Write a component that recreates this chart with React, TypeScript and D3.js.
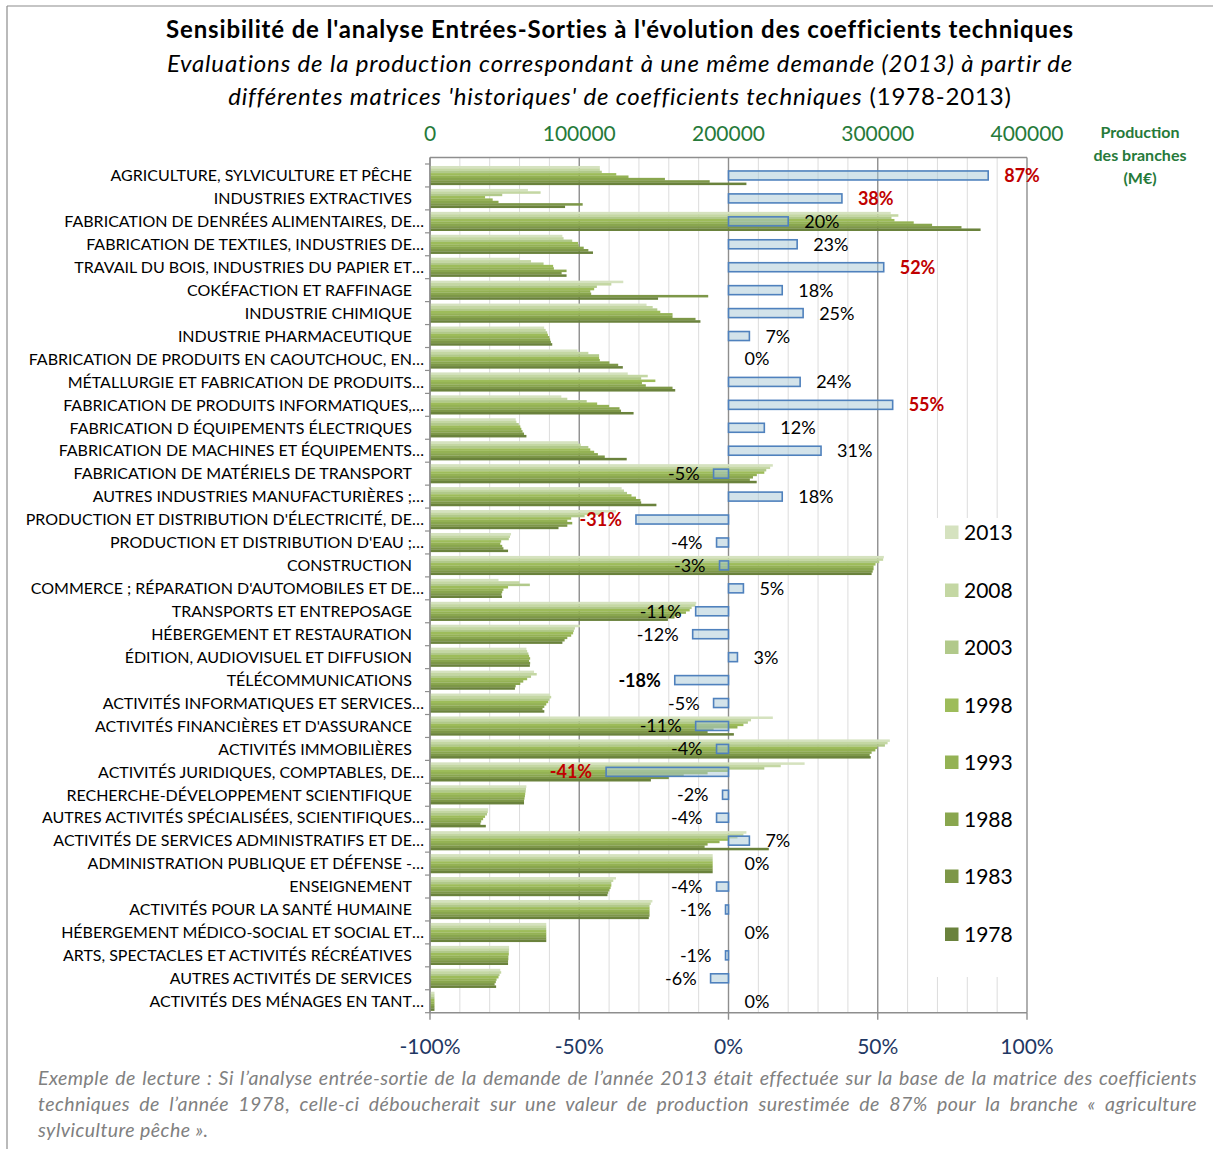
import React, { useLayoutEffect, useRef } from "react";
import * as d3 from "d3";

const categories = [
  "AGRICULTURE, SYLVICULTURE ET PÊCHE",
  "INDUSTRIES EXTRACTIVES",
  "FABRICATION DE DENRÉES ALIMENTAIRES, DE…",
  "FABRICATION DE TEXTILES, INDUSTRIES DE…",
  "TRAVAIL DU BOIS, INDUSTRIES DU PAPIER ET…",
  "COKÉFACTION ET RAFFINAGE",
  "INDUSTRIE CHIMIQUE",
  "INDUSTRIE PHARMACEUTIQUE",
  "FABRICATION DE PRODUITS EN CAOUTCHOUC, EN…",
  "MÉTALLURGIE ET FABRICATION DE PRODUITS…",
  "FABRICATION DE PRODUITS INFORMATIQUES,…",
  "FABRICATION D ÉQUIPEMENTS ÉLECTRIQUES",
  "FABRICATION DE MACHINES ET ÉQUIPEMENTS…",
  "FABRICATION DE MATÉRIELS DE TRANSPORT",
  "AUTRES INDUSTRIES MANUFACTURIÈRES ;…",
  "PRODUCTION ET DISTRIBUTION D'ÉLECTRICITÉ, DE…",
  "PRODUCTION ET DISTRIBUTION D'EAU ;…",
  "CONSTRUCTION",
  "COMMERCE ; RÉPARATION D'AUTOMOBILES ET DE…",
  "TRANSPORTS ET ENTREPOSAGE",
  "HÉBERGEMENT ET RESTAURATION",
  "ÉDITION, AUDIOVISUEL ET DIFFUSION",
  "TÉLÉCOMMUNICATIONS",
  "ACTIVITÉS INFORMATIQUES ET SERVICES…",
  "ACTIVITÉS FINANCIÈRES ET D'ASSURANCE",
  "ACTIVITÉS IMMOBILIÈRES",
  "ACTIVITÉS JURIDIQUES, COMPTABLES, DE…",
  "RECHERCHE-DÉVELOPPEMENT SCIENTIFIQUE",
  "AUTRES ACTIVITÉS SPÉCIALISÉES, SCIENTIFIQUES…",
  "ACTIVITÉS DE SERVICES ADMINISTRATIFS ET DE…",
  "ADMINISTRATION PUBLIQUE ET DÉFENSE -…",
  "ENSEIGNEMENT",
  "ACTIVITÉS POUR LA SANTÉ HUMAINE",
  "HÉBERGEMENT MÉDICO-SOCIAL ET SOCIAL ET…",
  "ARTS, SPECTACLES ET ACTIVITÉS RÉCRÉATIVES",
  "AUTRES ACTIVITÉS DE SERVICES",
  "ACTIVITÉS DES MÉNAGES EN TANT…",
];

const years = ["2013", "2008", "2003", "1998", "1993", "1988", "1983", "1978"];

const prod2013 = [113800, 65600, 308700, 88700, 60000, 129500, 145100, 76500, 98900, 132500, 88000, 57400, 99200, 229700, 128400, 124600, 54300, 304100, 45900, 178400, 100500, 64600, 69700, 80500, 229700, 308100, 251000, 64600, 39000, 212000, 189400, 124600, 149000, 77900, 53000, 47100, 3000];
const prod2008 = [113800, 74100, 313800, 89500, 67700, 121500, 149200, 77500, 106100, 145900, 92000, 57900, 101000, 227900, 130000, 115800, 53600, 303600, 60000, 177900, 97100, 65100, 71500, 81200, 215100, 306600, 235000, 64300, 38700, 210000, 189400, 122800, 147900, 77900, 53000, 47700, 3000];
const prod2003 = [115100, 48400, 309200, 95300, 76100, 111800, 152300, 78500, 113300, 141500, 105000, 59500, 106100, 225300, 132000, 103600, 52800, 301000, 66900, 175300, 96400, 65900, 67700, 80000, 213000, 304800, 224000, 64100, 38200, 206000, 189400, 121500, 147100, 77900, 52800, 46600, 3000];
const prod1998 = [124800, 36900, 311200, 99200, 82500, 110000, 154300, 79000, 113300, 151000, 112000, 60500, 107400, 224000, 135000, 94600, 47700, 298500, 52300, 174000, 95900, 66400, 65100, 79200, 210000, 299700, 200000, 63800, 36900, 200000, 189400, 121500, 147100, 77900, 52800, 45900, 3000];
const prod1993 = [133000, 42000, 324100, 99700, 83000, 107400, 162500, 80000, 113800, 142000, 120000, 61200, 110000, 219000, 138000, 92000, 47100, 297200, 49200, 171500, 94600, 67100, 62500, 77900, 206000, 298400, 186000, 63600, 35600, 194000, 189400, 121000, 147100, 77900, 52500, 44600, 3000];
const prod1988 = [157400, 45900, 336400, 103000, 91500, 108000, 162500, 80500, 120200, 144600, 127000, 62000, 112500, 216400, 141000, 95300, 48400, 297200, 48400, 167600, 92000, 66400, 60500, 76600, 190000, 295900, 170000, 63300, 34300, 186000, 189400, 120200, 147100, 77900, 52500, 44100, 3000];
const prod1983 = [187400, 102300, 356100, 106100, 88200, 186400, 177900, 81000, 126100, 162500, 128000, 63000, 117100, 214300, 141500, 92000, 49200, 296600, 47900, 163800, 90200, 67100, 57400, 75400, 186000, 294600, 160000, 63000, 33800, 184000, 189400, 119400, 147100, 77900, 52300, 43300, 3000];
const prod1978 = [212000, 90500, 368900, 109200, 91500, 152800, 181200, 81900, 129200, 164300, 136400, 64600, 131800, 218900, 151700, 86100, 52300, 295900, 48200, 159400, 88700, 66900, 56900, 76600, 203600, 295300, 148000, 63000, 37400, 227000, 189400, 118900, 146600, 77900, 52300, 44300, 3000];

const pctChange = [0.87, 0.38, 0.20, 0.23, 0.52, 0.18, 0.25, 0.07, 0, 0.24, 0.55, 0.12, 0.31, -0.05, 0.18, -0.31, -0.04, -0.03, 0.05, -0.11, -0.12, 0.03, -0.18, -0.05, -0.11, -0.04, -0.41, -0.02, -0.04, 0.07, 0, -0.04, -0.01, 0, -0.01, -0.06, 0];

const prodTicks = [0, 100000, 200000, 300000, 400000];
const pctTicks = [-1, -0.5, 0, 0.5, 1];

const redLabels = [0, 1, 4, 10, 15, 26];
const boldLabels = [22];

const seriesValues = [prod2013, prod2008, prod2003, prod1998, prod1993, prod1988, prod1983, prod1978];
const seriesColors = ["#d5e2bf", "#c4d7a3", "#b1c98a", "#9dbc5a", "#94b254", "#89a64e", "#7d9748", "#6a823c"];

const FONT = "Lato, 'Open Sans', sans-serif";

const locale = d3.formatLocale({
  decimal: ".",
  thousands: "",
  grouping: [3],
  currency: ["", ""],
  minus: "-",
});
const fmtPct = locale.format(".0%");

function Justified({ x, y, width, text, style }: any) {
  const ref = useRef<SVGTextElement>(null);
  useLayoutEffect(() => {
    const el = ref.current;
    if (!el) return;
    el.setAttribute("word-spacing", "0");
    const w = el.getComputedTextLength();
    const spaces = (text.match(/ /g) || []).length;
    if (spaces) el.setAttribute("word-spacing", String(Math.max(0, (width - w) / spaces)));
  }, [text, width]);
  return (
    <text ref={ref} x={x} y={y} style={style}>
      {text}
    </text>
  );
}

export default function App() {
  const left = 430;
  const right = 1027;
  const plotTop = 157.5;
  const catTop = 164;
  const catBottom = 1012.7;

  const xProd = d3.scaleLinear().domain([0, 400000]).range([left, right]);
  const xPct = d3.scaleLinear().domain([-1, 1]).range([left, right]);
  const yCat = d3
    .scaleBand<number>()
    .domain(categories.map((_, i) => i))
    .range([catTop, catBottom])
    .padding(0);
  const ySer = d3
    .scaleBand<string>()
    .domain(years)
    .range([0, yCat.bandwidth()])
    .paddingInner(0)
    .paddingOuter(0.83);

  const minorTicks = d3.range(0, 400001, 20000).filter((v) => v % 100000 !== 0);
  const majorTicks = prodTicks;
  const catBounds = d3.range(categories.length + 1).map((i) => catTop + i * yCat.step());

  const legendYs = [532, 590, 647, 705, 762, 819, 876, 934];

  const green = "#267a3a";
  const blueText = "#1f3864";
  const titleStyle = { fontSize: 24, letterSpacing: 0.85 };
  const noteStyle = { fontSize: 19.5, fontStyle: "italic", fill: "#808080", letterSpacing: 0.45 };

  return (
    <div style={{ position: "absolute", left: 0, top: 0 }}>
      <svg width={1213} height={1149} style={{ display: "block", background: "#fff", fontFamily: FONT }}>
        {/* frame */}
        <line x1={7} y1={6} x2={1213} y2={6} stroke="#8c8c8c" strokeWidth={1.2} />
        <line x1={7} y1={6} x2={7} y2={1149} stroke="#8c8c8c" strokeWidth={1.2} />

        {/* titles */}
        <text x={620} y={38} textAnchor="middle" style={{ ...titleStyle, fontWeight: 700 }} fill="#000">
          Sensibilité de l'analyse Entrées-Sorties à l'évolution des coefficients techniques
        </text>
        <text x={620} y={72} textAnchor="middle" style={{ ...titleStyle, fontStyle: "italic" }} fill="#000">
          Evaluations de la production correspondant à une même demande (2013) à partir de
        </text>
        <text x={620} y={105} textAnchor="middle" style={titleStyle} fill="#000">
          <tspan style={{ fontStyle: "italic" }}>différentes matrices 'historiques' de coefficients techniques</tspan>
          <tspan> (1978-2013)</tspan>
        </text>

        {/* minor gridlines */}
        {minorTicks.map((v) => (
          <line key={"mi" + v} x1={xProd(v)} x2={xProd(v)} y1={plotTop} y2={catBottom} stroke="#dcdcdc" strokeWidth={1} />
        ))}
        {/* legend background covering gridlines */}
        <rect x={936} y={518} width={right - 936 - 1} height={459} fill="#fff" />
        {/* major gridlines */}
        {majorTicks.map((v) => (
          <line key={"ma" + v} x1={xProd(v)} x2={xProd(v)} y1={plotTop} y2={catBottom} stroke="#8e8e8e" strokeWidth={1.4} />
        ))}
        {/* top axis line */}
        <line x1={left} x2={right} y1={plotTop} y2={plotTop} stroke="#8e8e8e" strokeWidth={1.4} />

        {/* green production bars */}
        {categories.map((c, i) => (
          <g key={"g" + i} transform={`translate(0,${yCat(i)})`}>
            {years.map((yr, s) => (
              <rect
                key={yr}
                x={xProd(0)}
                y={ySer(yr)}
                width={Math.max(0, xProd(seriesValues[s][i]) - xProd(0))}
                height={ySer.bandwidth() + 0.15}
                fill={seriesColors[s]}
              />
            ))}
          </g>
        ))}

        {/* blue percent bars */}
        {categories.map((c, i) => {
          const v = pctChange[i];
          if (v === 0) return null;
          const x0 = xPct(Math.min(0, v));
          const x1 = xPct(Math.max(0, v));
          const cy = (yCat(i) as number) + yCat.bandwidth() / 2;
          return (
            <g key={"b" + i}>
              <rect x={x0} y={cy - 4.5} width={x1 - x0} height={9} fill="#a8c7d5" fillOpacity={0.5} />
              <rect x={x0} y={cy - 4.5} width={x1 - x0} height={9} fill="none" stroke="#4f81bd" strokeWidth={1.6} />
            </g>
          );
        })}

        {/* axes */}
        <line x1={left} x2={left} y1={plotTop} y2={catBottom} stroke="#8e8e8e" strokeWidth={1.4} />
        {catBounds.map((y, i) => (
          <line key={"ct" + i} x1={left - 5} x2={left} y1={y} y2={y} stroke="#8e8e8e" strokeWidth={1.2} />
        ))}
        <line x1={left} x2={right} y1={catBottom} y2={catBottom} stroke="#8e8e8e" strokeWidth={1.4} />
        {pctTicks.map((t) => (
          <line key={"pt" + t} x1={xPct(t)} x2={xPct(t)} y1={catBottom} y2={catBottom + 7} stroke="#8e8e8e" strokeWidth={1.4} />
        ))}

        {/* top axis labels */}
        {prodTicks.map((t) => (
          <text key={"tl" + t} x={xProd(t)} y={141} textAnchor="middle" style={{ fontSize: 21 }} fill={green}>
            {String(t)}
          </text>
        ))}
        {/* bottom axis labels */}
        {pctTicks.map((t) => (
          <text key={"bl" + t} x={xPct(t)} y={1054} textAnchor="middle" style={{ fontSize: 21 }} fill={blueText}>
            {fmtPct(t)}
          </text>
        ))}

        {/* production axis title */}
        {["Production", "des branches", "(M€)"].map((s, i) => (
          <text key={"pa" + i} x={1140} y={138 + i * 23} textAnchor="middle" style={{ fontSize: 16, fontWeight: 700 }} fill={green}>
            {s}
          </text>
        ))}

        {/* category labels */}
        {categories.map((c, i) => {
          const cy = (yCat(i) as number) + yCat.bandwidth() / 2;
          const ell = c.endsWith("…");
          const main = ell ? c.slice(0, -1) : c;
          return (
            <g key={"cl" + i}>
              <text x={412} y={cy} dy="0.36em" textAnchor="end" style={{ fontSize: 16 }} fill="#000">
                {main}
              </text>
              {ell && (
                <text x={412} y={cy} dy="0.36em" textAnchor="start" style={{ fontSize: 16 }} fill="#000">
                  …
                </text>
              )}
            </g>
          );
        })}

        {/* percent labels */}
        {categories.map((c, i) => {
          const v = pctChange[i];
          const cy = (yCat(i) as number) + yCat.bandwidth() / 2;
          const red = redLabels.includes(i);
          const bold = red || boldLabels.includes(i);
          const neg = v < 0;
          return (
            <text
              key={"pl" + i}
              x={neg ? xPct(v) - 14 : xPct(v) + 16}
              y={cy}
              dy="0.36em"
              textAnchor={neg ? "end" : "start"}
              style={{ fontSize: 18, fontWeight: bold ? 700 : 400 }}
              fill={red ? "#c00000" : "#000"}
            >
              {fmtPct(v)}
            </text>
          );
        })}

        {/* legend */}
        {years.map((yr, s) => (
          <g key={"lg" + yr}>
            <rect x={945} y={legendYs[s] - 6.5} width={13.5} height={13.5} fill={seriesColors[s]} />
            <text x={964} y={legendYs[s]} dy="0.36em" style={{ fontSize: 21 }} fill="#000">
              {yr}
            </text>
          </g>
        ))}

        {/* footnote */}
        <Justified
          x={38}
          y={1085}
          width={1159}
          text="Exemple de lecture : Si l’analyse entrée-sortie de la demande de l’année 2013 était effectuée sur la base de la matrice des coefficients"
          style={noteStyle}
        />
        <Justified
          x={38}
          y={1111}
          width={1159}
          text="techniques de l’année 1978, celle-ci déboucherait sur une valeur de production surestimée de 87% pour la branche « agriculture"
          style={noteStyle}
        />
        <text x={38} y={1137} style={noteStyle}>
          sylviculture pêche ».
        </text>
      </svg>
    </div>
  );
}
